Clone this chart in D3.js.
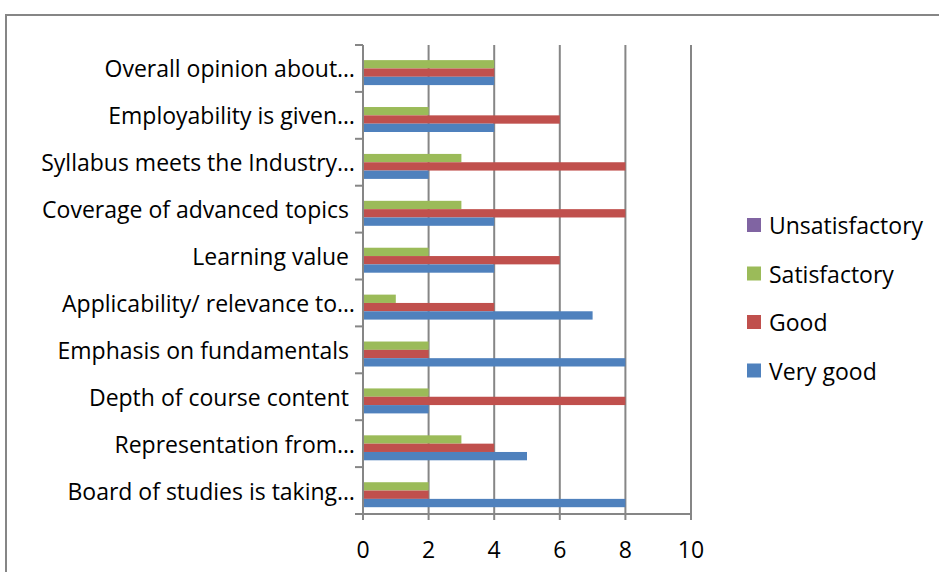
<!DOCTYPE html>
<html>
<head>
<meta charset="utf-8">
<script src="https://cdn.jsdelivr.net/npm/d3@7"></script>
<style>
  body { margin: 0; background: #fff; }
  text { font-family: "Open Sans", "Noto Sans", sans-serif; fill: #000; }
</style>
</head>
<body>
<div id="chart"></div>
<script>
  // категории (сверху вниз как на картинке)
  let categories = [
    "Overall opinion about…",
    "Employability is given…",
    "Syllabus meets the Industry…",
    "Coverage of advanced topics ",
    "Learning value ",
    "Applicability/ relevance to…",
    "Emphasis on fundamentals ",
    "Depth of course content ",
    "Representation from…",
    "Board of studies is taking…"
  ];

  let seriesNames = ["Unsatisfactory", "Satisfactory", "Good", "Very good"];
  let seriesColors = ["#8064A2", "#9BBB59", "#C0504D", "#4F81BD"];

  let unsatisfactory = [0, 0, 0, 0, 0, 0, 0, 0, 0, 0];
  let satisfactory   = [4, 2, 3, 3, 2, 1, 2, 2, 3, 2];
  let good           = [4, 6, 8, 8, 6, 4, 2, 8, 4, 2];
  let veryGood       = [4, 4, 2, 4, 4, 7, 8, 2, 5, 8];

  let xTicks = [0, 2, 4, 6, 8, 10];

  let seriesValues = [unsatisfactory, satisfactory, good, veryGood];

  let W = 939, H = 572;
  let m = { left: 363, right: 248, top: 45, bottom: 58 };
  let fs = '23px';

  let svg = d3.select('#chart').append('svg').attr('width', W).attr('height', H);

  // рамка диаграммы
  svg.append('rect').attr('x', 6).attr('y', 15).attr('width', W + 10).attr('height', H + 10)
     .attr('fill', 'none').attr('stroke', '#868686').attr('stroke-width', 2);

  let x = d3.scaleLinear().domain([0, 10]).range([m.left, W - m.right]);
  let y = d3.scaleBand().domain(categories).range([m.top, H - m.bottom]).paddingInner(0.29).paddingOuter(0.145);
  let ySub = d3.scaleBand().domain(seriesNames).range([0, y.bandwidth()]);

  let bandY = d3.scaleBand().domain(categories).range([m.top, H - m.bottom]);

  // сетка
  svg.append('g').selectAll('line').data(xTicks.slice(1)).enter().append('line')
     .attr('x1', d => x(d)).attr('x2', d => x(d))
     .attr('y1', m.top).attr('y2', H - m.bottom + 6)
     .attr('stroke', '#868686').attr('stroke-width', 2);

  // бары
  let groups = svg.append('g').selectAll('g').data(categories).enter().append('g')
     .attr('transform', c => `translate(0,${y(c)})`);

  groups.selectAll('rect').data((c, i) => seriesNames.map((s, k) => ({ s, k, v: seriesValues[k][i] })))
     .enter().append('rect')
     .attr('x', x(0) + 1)
     .attr('y', d => ySub(d.s))
     .attr('width', d => Math.max(0, x(d.v) - x(0) - 1))
     .attr('height', ySub.bandwidth())
     .attr('fill', d => seriesColors[d.k]);

  // ось Y
  let yAxis = svg.append('g');
  yAxis.append('line').attr('x1', x(0)).attr('x2', x(0)).attr('y1', m.top).attr('y2', H - m.bottom + 6)
       .attr('stroke', '#868686').attr('stroke-width', 2);
  let bounds = categories.map(c => bandY(c)).concat([H - m.bottom]);
  yAxis.selectAll('.tk').data(bounds).enter().append('line')
       .attr('x1', x(0) - 8).attr('x2', x(0)).attr('y1', d => d).attr('y2', d => d)
       .attr('stroke', '#868686').attr('stroke-width', 2);
  yAxis.selectAll('text').data(categories).enter().append('text')
       .attr('x', 355).attr('y', c => bandY(c) + bandY.bandwidth() / 2)
       .attr('text-anchor', 'end').attr('dominant-baseline', 'central')
       .style('white-space', 'pre').attr('xml:space', 'preserve')
       .style('font-size', fs)
       .text(c => c);

  // ось X
  let xAxis = svg.append('g');
  xAxis.append('line').attr('x1', x(0) - 8).attr('x2', x(10)).attr('y1', H - m.bottom).attr('y2', H - m.bottom)
       .attr('stroke', '#868686').attr('stroke-width', 2);
  xAxis.selectAll('text').data(xTicks).enter().append('text')
       .attr('x', d => x(d)).attr('y', 549)
       .attr('text-anchor', 'middle').attr('dominant-baseline', 'central')
       .style('font-size', fs)
       .text(d => d);

  // легенда
  let legend = svg.append('g').selectAll('g').data(seriesNames).enter().append('g')
       .attr('transform', (d, i) => `translate(747,${225 + i * 48.5})`);
  legend.append('rect').attr('x', 0).attr('y', -7).attr('width', 14).attr('height', 14)
       .attr('fill', (d, i) => seriesColors[i]);
  legend.append('text').attr('x', 22).attr('y', 0).attr('dominant-baseline', 'central')
       .style('font-size', fs).text(d => d);
</script>
</body>
</html>
